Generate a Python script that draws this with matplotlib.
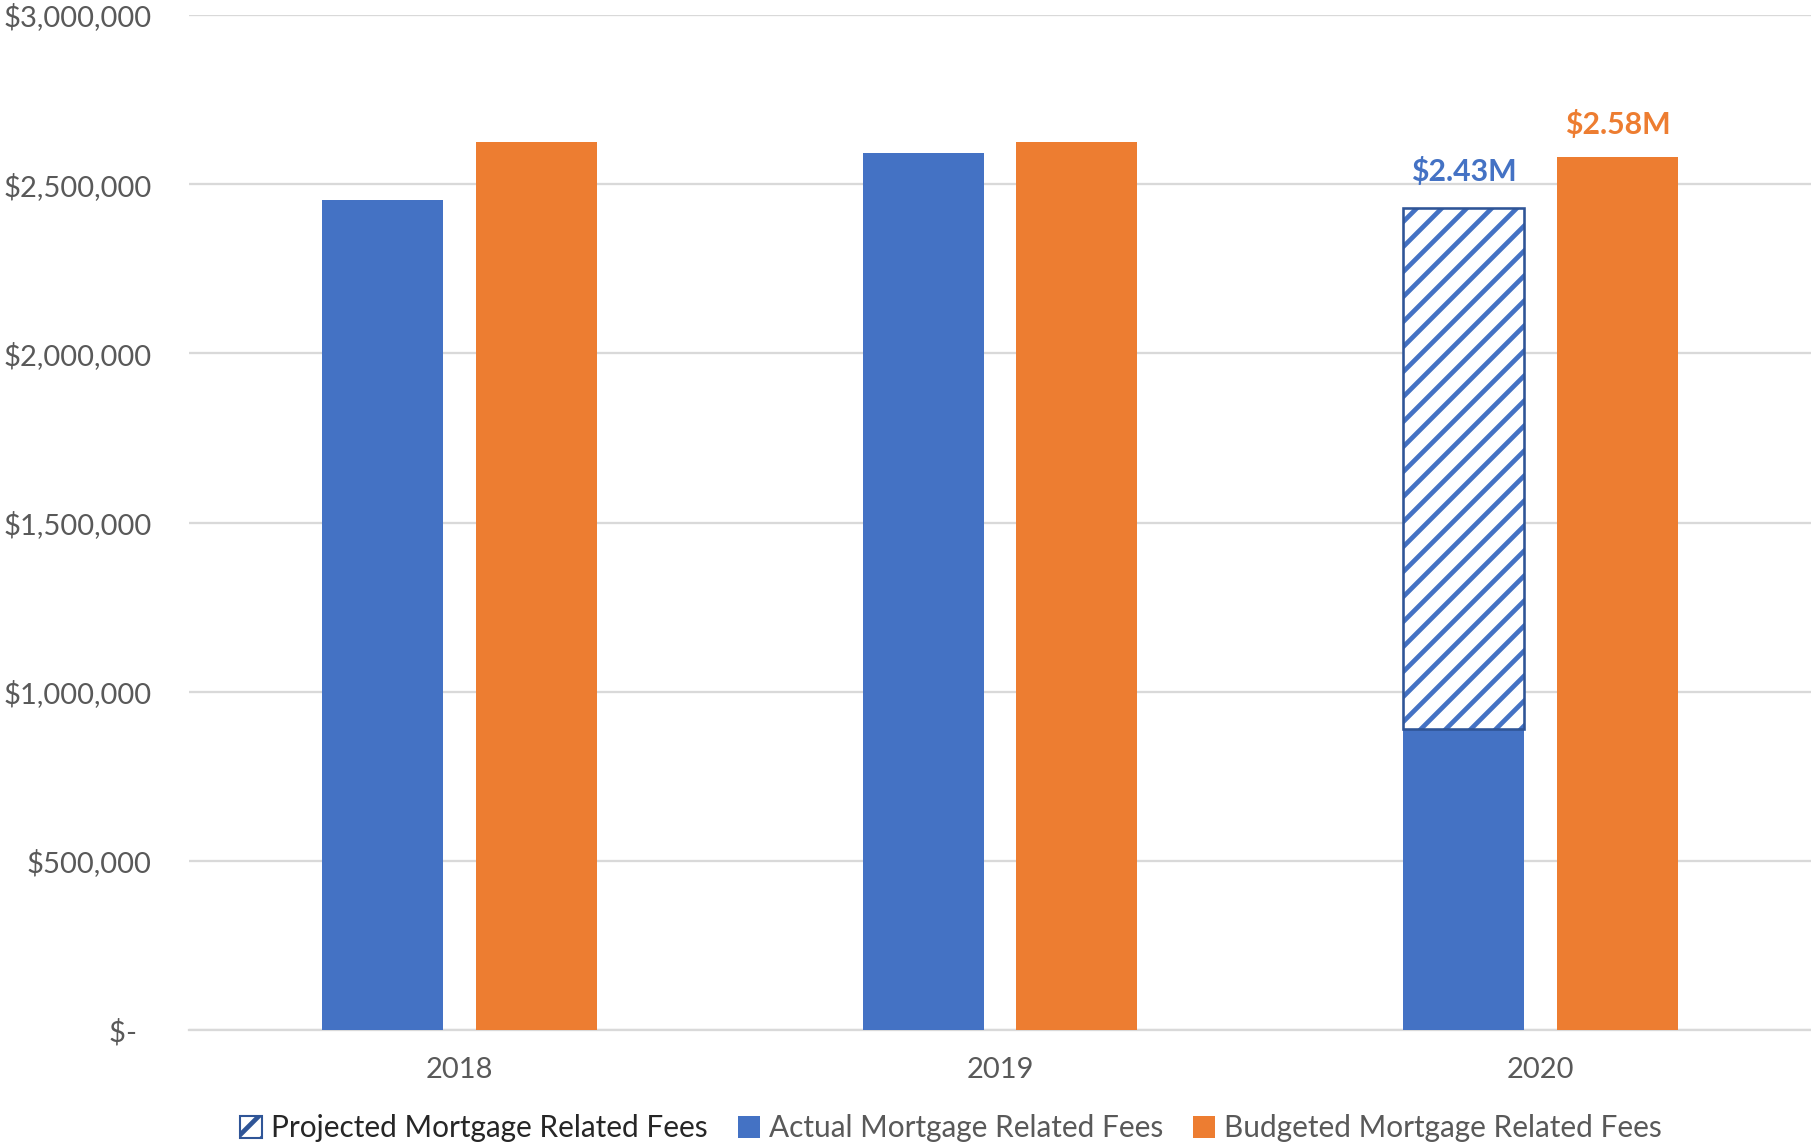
import matplotlib
matplotlib.use('Agg')
import matplotlib.pyplot as plt
import numpy as np
from matplotlib.patches import Patch

# mortgage related fees by year
years = ['2018', '2019', '2020']
actual_fees = [2453000, 2593000, 890000]
projected_fees = [0, 0, 1540000]
budgeted_fees = [2624000, 2624000, 2580000]

y_ticks = [0, 500000, 1000000, 1500000, 2000000, 2500000, 3000000]
y_labels = ['$-  ', '$500,000', '$1,000,000', '$1,500,000', '$2,000,000', '$2,500,000', '$3,000,000']

blue = '#4472C4'
dark_blue = '#2F5597'
orange = '#ED7D31'
grey = '#595959'

plt.rcParams['font.family'] = ['Lato', 'DejaVu Sans']
plt.rcParams['hatch.linewidth'] = 4.5

dpi = 75
fig = plt.figure(figsize=(1811 / dpi, 1145 / dpi), dpi=dpi)
ax = fig.add_axes([0.1044, 0.1004, 0.8956, 0.8865])

x = np.arange(len(years))
w = 0.224
off = 0.142

ax.bar(x - off, actual_fees, width=w, color=blue, zorder=3)
# projected part sits on top of the actual amount
ax.bar(x - off, projected_fees, width=w, bottom=actual_fees, color='white',
       edgecolor=blue, hatch='/', linewidth=0, zorder=3)
ax.bar(x[2] - off, projected_fees[2], width=w, bottom=actual_fees[2],
       facecolor='none', edgecolor=dark_blue, linewidth=2.5, zorder=4)
ax.bar(x + off, budgeted_fees, width=w, color=orange, zorder=3)

total_2020 = actual_fees[2] + projected_fees[2]
ax.annotate(f'${total_2020 / 1e6:.2f}M', (x[2] - off, total_2020),
            xytext=(0, 21), textcoords='offset points', ha='center', va='bottom',
            color=blue, fontsize=29, fontweight='bold')
ax.annotate(f'${budgeted_fees[2] / 1e6:.2f}M', (x[2] + off, budgeted_fees[2]),
            xytext=(0, 17), textcoords='offset points', ha='center', va='bottom',
            color=orange, fontsize=29, fontweight='bold')

ax.set_xlim(-0.5, 2.5)
ax.set_ylim(0, 3000000)
ax.set_xticks(x)
ax.set_xticklabels(years)
ax.set_yticks(y_ticks)
ax.set_yticklabels(y_labels)
ax.tick_params(axis='both', length=0, labelsize=28, labelcolor=grey)
ax.tick_params(axis='y', pad=36)
ax.tick_params(axis='x', pad=26)

ax.grid(axis='y', color='#D9D9D9', linewidth=2.2, zorder=0)
for s in ['top', 'right', 'left']:
    ax.spines[s].set_visible(False)
ax.spines['bottom'].set_color('#D9D9D9')
ax.spines['bottom'].set_linewidth(2.2)
ax.spines['bottom'].set_zorder(1)

handles = [
    Patch(facecolor='white', edgecolor=dark_blue, hatch='/', linewidth=2, label='Projected Mortgage Related Fees'),
    Patch(facecolor=blue, label='Actual Mortgage Related Fees'),
    Patch(facecolor=orange, label='Budgeted Mortgage Related Fees'),
]
leg = fig.legend(handles=handles, loc='lower center', bbox_to_anchor=(0.525, -0.021),
                 ncol=3, frameon=False, fontsize=28.5, handlelength=0.75, handleheight=0.75,
                 handletextpad=0.3, columnspacing=1.0)
leg.get_texts()[0].set_color('#262626')
for t in leg.get_texts()[1:]:
    t.set_color(grey)

fig.savefig('out.png', dpi=dpi)
